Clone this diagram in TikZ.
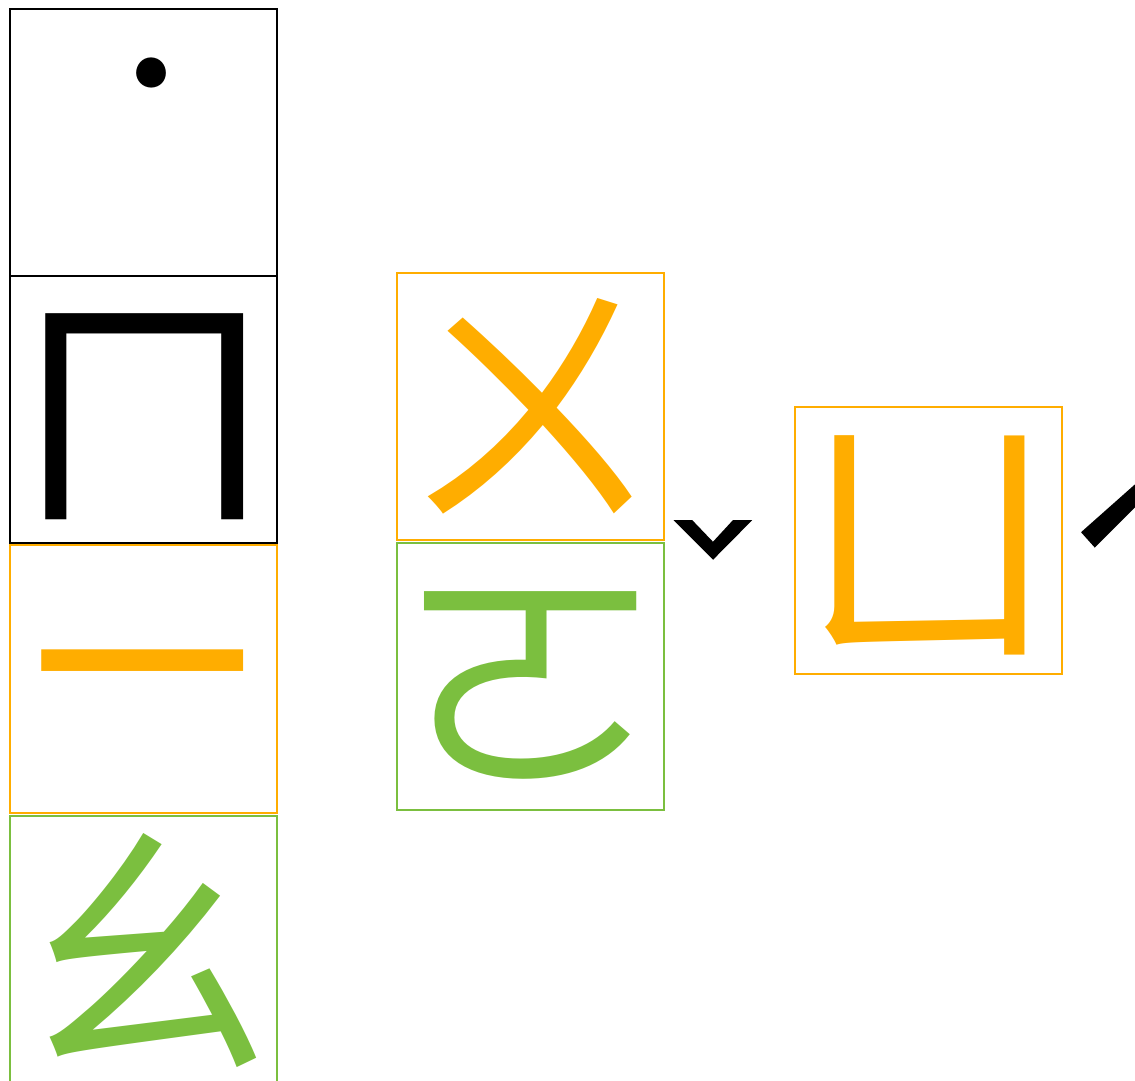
\documentclass[tikz,border=0pt]{standalone}
\usepackage{fontspec}
\newfontfamily\cjk{Noto Sans CJK TC}
\newfontfamily\cjkbold[FakeBold=4]{Noto Sans CJK TC}
\definecolor{zyorange}{HTML}{FFAD00}
\definecolor{zygreen}{HTML}{7BBF3F}
\begin{document}
\begin{tikzpicture}[x=1pt,y=1pt,
  zybox/.style={draw, line width=2pt, minimum width=267pt, minimum height=267pt, inner sep=0pt,
    font=\cjk\fontsize{267}{267}\selectfont, text height=235pt, text depth=32pt},
  ybox/.style={zybox, draw=zyorange, text=zyorange},
  gbox/.style={zybox, draw=zygreen, text=zygreen},
  kbox/.style={zybox, draw=black, text=black},
  tone/.style={font=\cjkbold\fontsize{160}{160}\selectfont, inner sep=0pt}]
\useasboundingbox (0,0) rectangle (1135,1080);
\node[kbox] (dot) at (143.5,937) {\hspace*{16pt}\raisebox{110pt}{\fontsize{160}{160}\selectfont ˙}};
\node[kbox] (m) at (143.5,670) {ㄇ};
\node[ybox] (i) at (143.5,401) {\raisebox{18pt}{ㄧ}};
\node[gbox] (ao) at (143.5,131) {ㄠ};
\node[ybox] (u) at (530.5,673.5) {ㄨ};
\node[gbox] (o) at (530.5,403.5) {ㄛ};
\node[tone] (t3) at (713,522) {\scalebox{0.85}[0.55]{ˇ}};
\node[ybox] (yu) at (928,539.5) {ㄩ};
\node[tone] (t2) at (1115,526) {\scalebox{1}[1]{ˊ}};
\end{tikzpicture}
\end{document}
